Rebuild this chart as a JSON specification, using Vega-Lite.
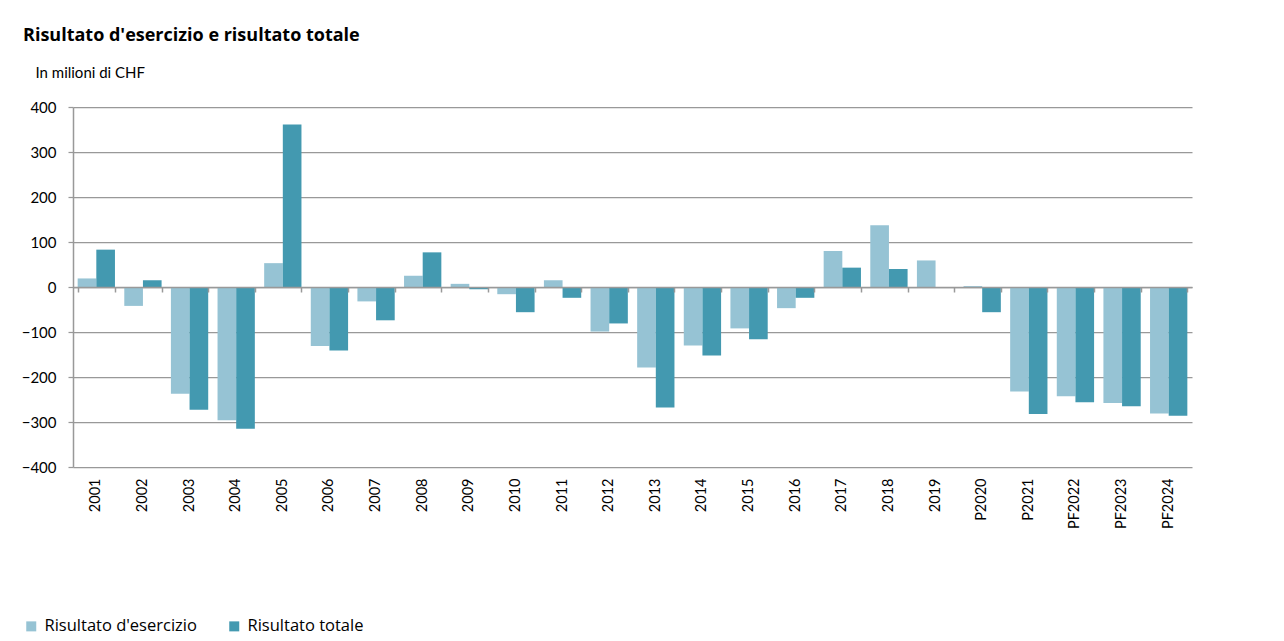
{
  "$schema": "https://vega.github.io/schema/vega-lite/v6.json",
  "autosize": {"type": "none"},
  "width": 1119,
  "height": 360,
  "padding": {"left": 73, "top": 107, "right": 92, "bottom": 174},
  "background": "white",
  "title": {
    "text": "Risultato d'esercizio e risultato totale",
    "anchor": "start",
    "frame": "group",
    "dx": -50,
    "dy": -16,
    "font": "Open Sans",
    "fontSize": 18,
    "fontWeight": "bold",
    "color": "#000000"
  },
  "config": {"font": "Lato", "view": {"stroke": null}},
  "data": {
    "values": [
      {"anno": "2001", "serie": "Risultato d'esercizio", "valore": 19},
      {"anno": "2001", "serie": "Risultato totale", "valore": 83},
      {"anno": "2002", "serie": "Risultato d'esercizio", "valore": -42},
      {"anno": "2002", "serie": "Risultato totale", "valore": 15},
      {"anno": "2003", "serie": "Risultato d'esercizio", "valore": -237},
      {"anno": "2003", "serie": "Risultato totale", "valore": -273},
      {"anno": "2004", "serie": "Risultato d'esercizio", "valore": -296},
      {"anno": "2004", "serie": "Risultato totale", "valore": -315},
      {"anno": "2005", "serie": "Risultato d'esercizio", "valore": 53},
      {"anno": "2005", "serie": "Risultato totale", "valore": 361},
      {"anno": "2006", "serie": "Risultato d'esercizio", "valore": -131},
      {"anno": "2006", "serie": "Risultato totale", "valore": -141},
      {"anno": "2007", "serie": "Risultato d'esercizio", "valore": -32},
      {"anno": "2007", "serie": "Risultato totale", "valore": -74},
      {"anno": "2008", "serie": "Risultato d'esercizio", "valore": 25},
      {"anno": "2008", "serie": "Risultato totale", "valore": 77},
      {"anno": "2009", "serie": "Risultato d'esercizio", "valore": 7},
      {"anno": "2009", "serie": "Risultato totale", "valore": -5},
      {"anno": "2010", "serie": "Risultato d'esercizio", "valore": -16},
      {"anno": "2010", "serie": "Risultato totale", "valore": -56},
      {"anno": "2011", "serie": "Risultato d'esercizio", "valore": 15},
      {"anno": "2011", "serie": "Risultato totale", "valore": -24},
      {"anno": "2012", "serie": "Risultato d'esercizio", "valore": -99},
      {"anno": "2012", "serie": "Risultato totale", "valore": -81},
      {"anno": "2013", "serie": "Risultato d'esercizio", "valore": -179},
      {"anno": "2013", "serie": "Risultato totale", "valore": -268},
      {"anno": "2014", "serie": "Risultato d'esercizio", "valore": -130},
      {"anno": "2014", "serie": "Risultato totale", "valore": -152},
      {"anno": "2015", "serie": "Risultato d'esercizio", "valore": -92},
      {"anno": "2015", "serie": "Risultato totale", "valore": -116},
      {"anno": "2016", "serie": "Risultato d'esercizio", "valore": -47},
      {"anno": "2016", "serie": "Risultato totale", "valore": -24},
      {"anno": "2017", "serie": "Risultato d'esercizio", "valore": 80},
      {"anno": "2017", "serie": "Risultato totale", "valore": 43},
      {"anno": "2018", "serie": "Risultato d'esercizio", "valore": 137},
      {"anno": "2018", "serie": "Risultato totale", "valore": 40},
      {"anno": "2019", "serie": "Risultato d'esercizio", "valore": 59},
      {"anno": "2019", "serie": "Risultato totale", "valore": 0},
      {"anno": "P2020", "serie": "Risultato d'esercizio", "valore": 2},
      {"anno": "P2020", "serie": "Risultato totale", "valore": -56},
      {"anno": "P2021", "serie": "Risultato d'esercizio", "valore": -232},
      {"anno": "P2021", "serie": "Risultato totale", "valore": -282},
      {"anno": "PF2022", "serie": "Risultato d'esercizio", "valore": -243},
      {"anno": "PF2022", "serie": "Risultato totale", "valore": -256},
      {"anno": "PF2023", "serie": "Risultato d'esercizio", "valore": -258},
      {"anno": "PF2023", "serie": "Risultato totale", "valore": -265},
      {"anno": "PF2024", "serie": "Risultato d'esercizio", "valore": -281},
      {"anno": "PF2024", "serie": "Risultato totale", "valore": -286}
    ]
  },
  "layer": [
    {
      "mark": {"type": "bar"},
      "encoding": {
        "x": {
          "field": "anno",
          "type": "nominal",
          "sort": null,
          "scale": {"paddingInner": 0.2, "paddingOuter": 0.1},
          "axis": {
            "orient": "bottom",
            "title": null,
            "labelAngle": -90,
            "labelFontSize": 14.5,
            "labelColor": "#000000",
            "labelPadding": 11,
            "domain": false,
            "ticks": false,
            "grid": false
          }
        },
        "xOffset": {"field": "serie", "type": "nominal", "sort": null, "scale": {"paddingInner": 0, "paddingOuter": 0}},
        "y": {
          "field": "valore",
          "type": "quantitative",
          "scale": {"domain": [-400, 400], "nice": false, "zero": false},
          "axis": {
            "values": [-400, -300, -200, -100, 0, 100, 200, 300, 400],
            "grid": true,
            "gridColor": "#999999",
            "gridWidth": 1.25,
            "domain": true,
            "domainColor": "#999999",
            "domainWidth": 1.5,
            "tickSize": 5,
            "tickColor": "#999999",
            "tickWidth": 1.25,
            "labelFontSize": 15,
            "labelColor": "#000000",
            "labelPadding": 12,
            "title": "In milioni di CHF",
            "titleAngle": 0,
            "titleAlign": "left",
            "titleBaseline": "alphabetic",
            "titleX": -38,
            "titleY": -30,
            "titleFontSize": 15,
            "titleFontWeight": "normal",
            "titleColor": "#000000"
          }
        },
        "color": {
          "field": "serie",
          "type": "nominal",
          "sort": null,
          "scale": {"domain": ["Risultato d'esercizio", "Risultato totale"], "range": ["#96C3D4", "#4399B0"]},
          "legend": {
            "orient": "none",
            "legendX": -50,
            "legendY": 511,
            "direction": "horizontal",
            "title": null,
            "symbolType": "square",
            "symbolSize": 100,
            "symbolStrokeWidth": 0,
            "labelFont": "Open Sans",
            "labelFontSize": 16.5,
            "labelColor": "#000000",
            "labelOffset": 5,
            "columnPadding": 29,
            "padding": 0
          }
        }
      }
    },
    {
      "mark": {"type": "bar", "opacity": 0},
      "encoding": {
        "x": {
          "field": "anno",
          "type": "nominal",
          "sort": null,
          "axis": {
            "orient": "bottom",
            "offset": -180,
            "labels": false,
            "domain": true,
            "domainColor": "#999999",
            "domainWidth": 1.5,
            "ticks": true,
            "tickBand": "extent",
            "tickSize": 5,
            "tickColor": "#999999",
            "tickWidth": 1.5,
            "title": null,
            "grid": false,
            "zindex": 1
          }
        },
        "y": {"field": "valore", "type": "quantitative"}
      }
    }
  ],
  "resolve": {"axis": {"x": "independent"}}
}
